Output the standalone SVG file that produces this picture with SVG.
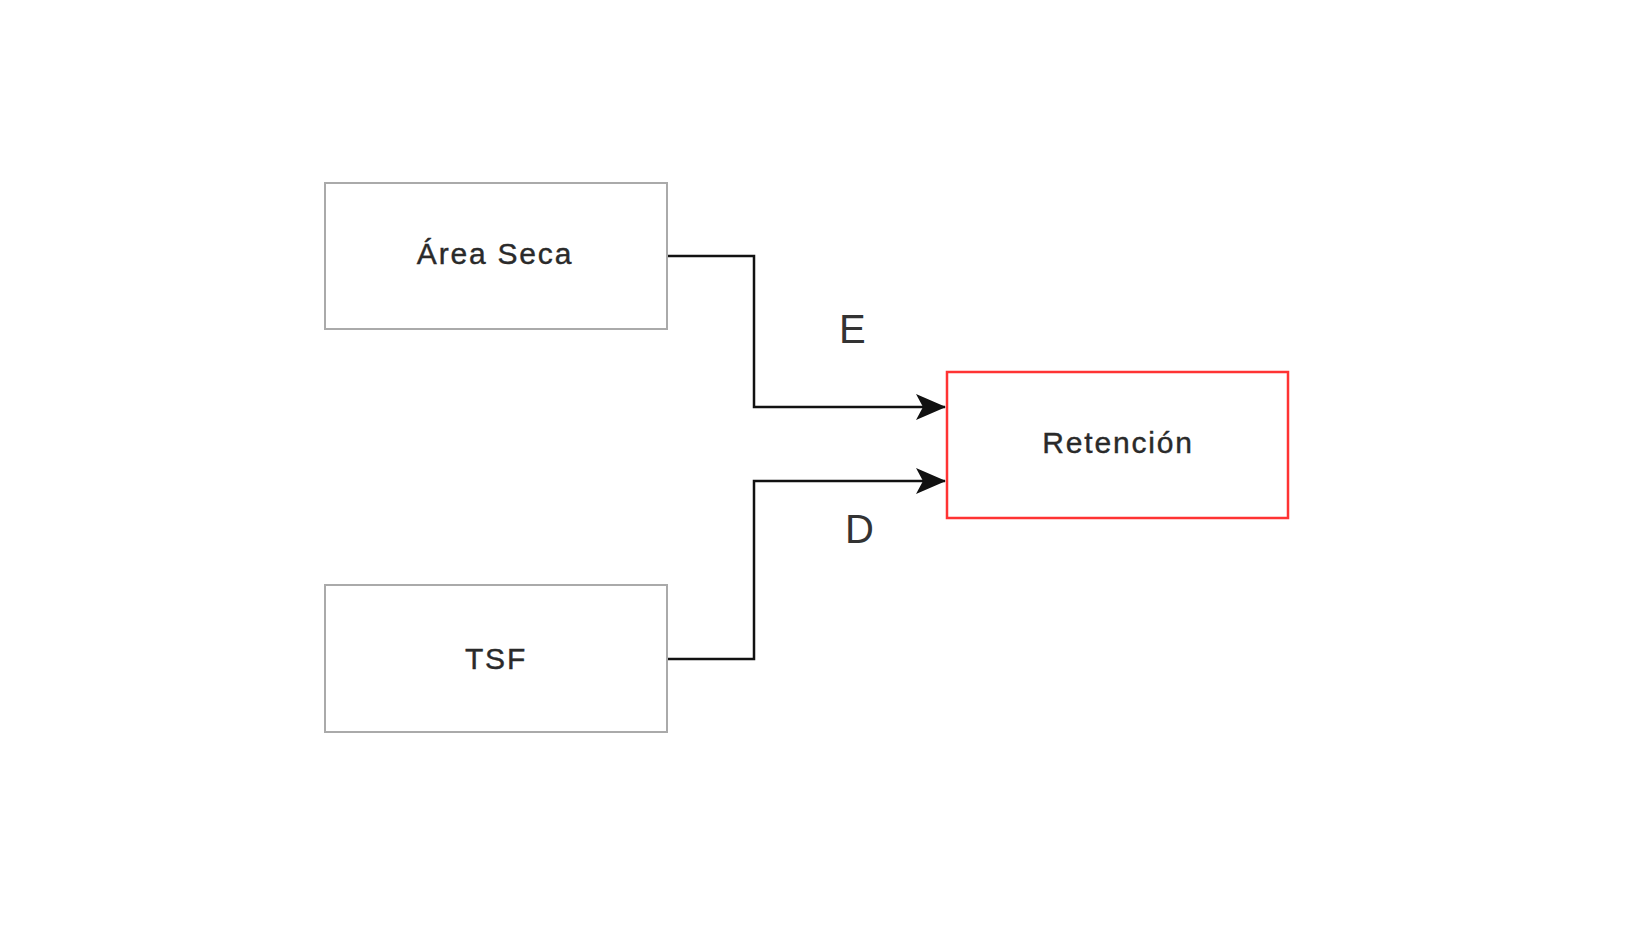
<svg xmlns="http://www.w3.org/2000/svg" width="1640" height="929" viewBox="0 0 1640 929">
  <style>
    .box { fill: #ffffff; stroke: #aaaaaa; stroke-width: 2; }
    .red { fill: #ffffff; stroke: #ff3333; stroke-width: 2.5; }
    .lbl { font-family: "Liberation Sans", Arial, sans-serif; font-size: 30px; fill: #2a2a2a; stroke: #2a2a2a; stroke-width: 0.4px; text-anchor: middle; letter-spacing: 1.8px; }
    .edge { fill: none; stroke: #111111; stroke-width: 2.5; }
    .elbl { font-family: "Liberation Sans", Arial, sans-serif; font-size: 40px; fill: #333333; }
  </style>
  <defs>
    <marker id="arrow" viewBox="0 0 30 26" refX="29" refY="13" markerWidth="30" markerHeight="26" markerUnits="userSpaceOnUse" orient="auto">
      <path d="M0,0 L30,13 L0,26 L7,13 Z" fill="#111111"/>
    </marker>
  </defs>
  <rect width="1640" height="929" fill="#ffffff"/>
  <g id="edges">
    <path class="edge" d="M667,256 L754,256 L754,407 L945,407" marker-end="url(#arrow)"/>
    <path class="edge" d="M667,659 L754,659 L754,481 L945,481" marker-end="url(#arrow)"/>
    <text class="elbl" x="839" y="343">E</text>
    <text class="elbl" x="845" y="543">D</text>
  </g>
  <g id="area-seca">
    <rect class="box" x="325" y="183" width="342" height="146"/>
    <text class="lbl" x="495" y="264">Área Seca</text>
  </g>
  <g id="tsf">
    <rect class="box" x="325" y="585" width="342" height="147"/>
    <text class="lbl" x="496" y="669">TSF</text>
  </g>
  <g id="retencion">
    <rect class="red" x="947" y="372" width="341" height="146"/>
    <text class="lbl" x="1118" y="453">Retención</text>
  </g>
</svg>
